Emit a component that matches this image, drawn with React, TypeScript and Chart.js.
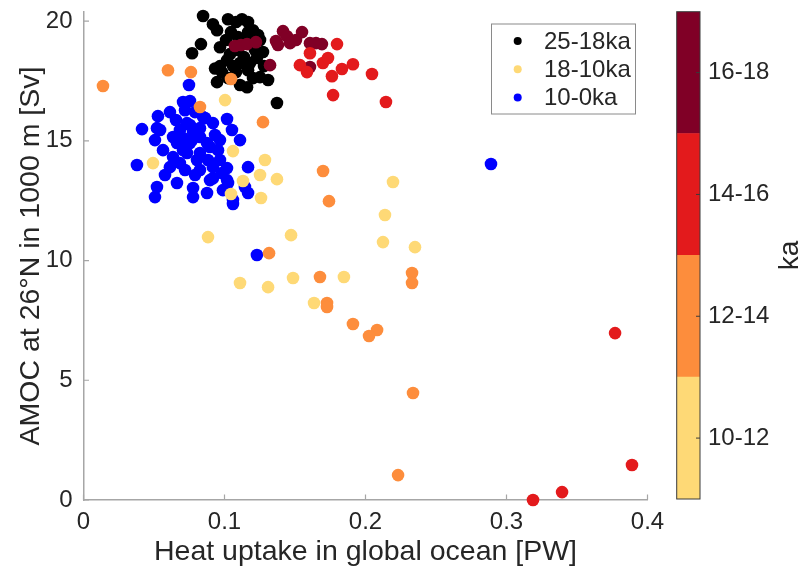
import React, { useEffect, useRef } from 'react';
import { Chart, registerables } from 'chart.js';

Chart.register(...registerables);

// ---------- tick labels / categories ----------
const xTicks = [0, 0.1, 0.2, 0.3, 0.4];
const yTicks = [0, 5, 10, 15, 20];
const cbBands = ['10-12', '12-14', '14-16', '16-18'];
const cbRanges: [number, number][] = [[10, 12], [12, 14], [14, 16], [16, 18]];
const cbTickValues = [11, 13, 15, 17];
const cbColors = ['#fed976', '#fd8d3c', '#e31a1c', '#800026'];
const legendLabels = ['25-18ka', '18-10ka', '10-0ka'];
const legendColors = ['#000000', '#fed976', '#0000ff'];

// ---------- series: [heat uptake PW, AMOC Sv] ----------
const pts25to18ka: [number, number][] = [
  [0.0848, 20.21], [0.0918, 19.87], [0.0947, 19.62], [0.1025, 20.08], [0.1082, 19.96],
  [0.1124, 20.08], [0.1167, 19.96], [0.1202, 19.62], [0.1238, 19.42], [0.0833, 19.04],
  [0.0770, 18.66], [0.0968, 18.91], [0.1011, 19.21], [0.1046, 19.54], [0.1096, 19.33],
  [0.1138, 19.12], [0.1252, 19.21], [0.1273, 18.71], [0.1216, 18.79], [0.1039, 18.62],
  [0.1096, 18.79], [0.1138, 18.50], [0.1018, 18.37], [0.0968, 18.12], [0.1060, 18.12],
  [0.1110, 18.25], [0.1181, 18.25], [0.1230, 18.46], [0.1280, 18.12], [0.1167, 17.95],
  [0.1202, 17.62], [0.1252, 17.66], [0.1309, 17.54], [0.0947, 17.45], [0.1025, 17.62],
  [0.1110, 17.33], [0.1160, 17.24], [0.1372, 16.58], [0.1082, 17.87], [0.0982, 17.87],
  [0.0933, 18.02], [0.1167, 19.54], [0.1216, 19.21],
];
const pts16to18ka: [number, number][] = [
  [0.1074, 18.96], [0.1117, 19.00], [0.1160, 19.04], [0.1223, 19.12], [0.1323, 18.16],
  [0.1365, 19.17], [0.1379, 19.00], [0.1415, 19.58], [0.1443, 19.37], [0.1465, 19.08],
  [0.1507, 19.21], [0.1550, 19.54], [0.1606, 19.08], [0.1649, 19.08], [0.1691, 19.04],
  [0.1606, 18.08],
];
const pts14to16ka: [number, number][] = [
  [0.1798, 19.04], [0.1606, 18.66], [0.1535, 18.16], [0.1585, 17.87], [0.1698, 18.25],
  [0.1734, 18.46], [0.1762, 17.70], [0.1833, 18.00], [0.1911, 18.20], [0.2046, 17.79],
  [0.1770, 16.91], [0.2145, 16.62], [0.3770, 6.97], [0.3890, 1.46], [0.3394, 0.33],
  [0.3188, 0.00],
];
const pts12to14ka: [number, number][] = [
  [0.0138, 17.29], [0.0599, 17.95], [0.0762, 17.87], [0.0826, 16.41], [0.1046, 17.58],
  [0.1273, 15.78], [0.1699, 13.74], [0.1741, 12.48], [0.1316, 10.31], [0.1677, 9.31],
  [0.1727, 8.23], [0.1727, 8.06], [0.1911, 7.35], [0.2082, 7.10], [0.2025, 6.85],
  [0.2330, 9.48], [0.2330, 9.06], [0.2337, 4.47], [0.2231, 1.04],
];
const pts10to12ka: [number, number][] = [
  [0.0493, 14.07], [0.1004, 16.70], [0.1060, 14.57], [0.1287, 14.20], [0.1131, 13.32],
  [0.1252, 13.57], [0.1046, 12.78], [0.1259, 12.61], [0.1372, 13.40], [0.2195, 13.28],
  [0.2138, 11.90], [0.2124, 10.77], [0.2351, 10.56], [0.0883, 10.98], [0.1472, 11.06],
  [0.1110, 9.06], [0.1309, 8.89], [0.1486, 9.27], [0.1847, 9.31], [0.1635, 8.23],
];
const pts10to0ka: [number, number][] = [
  [0.0748, 17.33], [0.0706, 16.62], [0.0755, 16.66], [0.0528, 16.03], [0.0613, 16.20],
  [0.0415, 15.49], [0.0521, 15.53], [0.0507, 15.03], [0.0635, 15.16], [0.0862, 15.95],
  [0.0918, 15.74], [0.1018, 15.91], [0.1053, 15.45], [0.1110, 15.03], [0.0564, 14.61],
  [0.0635, 14.32], [0.0379, 13.99], [0.0613, 13.90], [0.0663, 13.24], [0.0521, 13.07],
  [0.0507, 12.65], [0.0777, 13.03], [0.0777, 12.65], [0.0876, 12.82], [0.0826, 13.78],
  [0.0918, 13.90], [0.0982, 13.65], [0.1018, 13.86], [0.1025, 13.24], [0.1060, 12.53],
  [0.1060, 12.36], [0.1167, 13.90], [0.1167, 12.82], [0.0734, 14.49], [0.0826, 14.49],
  [0.0876, 14.91], [0.0777, 15.37], [0.0826, 15.16], [0.0897, 14.74], [0.0684, 15.45],
  [0.0734, 15.74], [0.0663, 14.91], [0.0755, 14.91], [0.0805, 14.20], [0.0684, 14.07],
  [0.0968, 14.20], [0.0720, 16.28], [0.0656, 15.87], [0.0791, 16.20], [0.0848, 15.99],
  [0.0883, 14.20], [0.0706, 14.61], [0.0755, 15.66], [0.0933, 15.24], [0.0968, 15.03],
  [0.0543, 15.45], [0.1145, 13.07], [0.1018, 13.36], [0.0989, 12.94], [0.0954, 14.61],
  [0.0791, 13.57], [0.0720, 13.78], [0.0578, 13.57], [0.0897, 13.36], [0.0826, 15.53],
  [0.0770, 15.03], [0.0706, 15.12], [0.0918, 13.44], [0.2890, 14.03], [0.1230, 10.23],
];

const FONT = '"Liberation Sans", Arial, Helvetica, sans-serif';
const TEXT = '#262626';
const AXIS = '#a6a6a6';

const toXY = (a: [number, number][]) => a.map(([x, y]) => ({ x, y }));

export default function App() {
  const mainRef = useRef<HTMLCanvasElement>(null);
  const cbRef = useRef<HTMLCanvasElement>(null);

  useEffect(() => {
    if (!mainRef.current || !cbRef.current) return;

    const ds = (label: string, data: [number, number][], color: string) => ({
      label,
      data: toXY(data),
      backgroundColor: color,
      borderWidth: 0,
      pointRadius: 6.3,
      pointHoverRadius: 6.3,
      clip: false as any,
    });

    const tickPlugin = {
      id: 'innerTicks',
      beforeDatasetsDraw(chart: any) {
        const { ctx, chartArea, scales } = chart;
        ctx.save();
        ctx.strokeStyle = AXIS;
        ctx.lineWidth = 1.2;
        ctx.beginPath();
        xTicks.forEach((v) => {
          const px = scales.x.getPixelForValue(v);
          ctx.moveTo(px, chartArea.bottom);
          ctx.lineTo(px, chartArea.bottom - 5.5);
        });
        yTicks.forEach((v) => {
          const py = scales.y.getPixelForValue(v);
          ctx.moveTo(chartArea.left, py);
          ctx.lineTo(chartArea.left + 5.5, py);
        });
        ctx.stroke();
        ctx.restore();
      },
    };

    const legendPlugin = {
      id: 'boxLegend',
      afterDraw(chart: any) {
        const { ctx } = chart;
        const bx = 491, by = 23.5, bw = 144, bh = 90;
        ctx.save();
        ctx.fillStyle = '#ffffff';
        ctx.fillRect(bx, by, bw, bh);
        ctx.strokeStyle = '#8a8a8a';
        ctx.lineWidth = 1;
        ctx.strokeRect(bx + 0.5, by + 0.5, bw, bh);
        ctx.font = `24px ${FONT}`;
        ctx.textBaseline = 'middle';
        ctx.textAlign = 'left';
        legendLabels.forEach((lab, i) => {
          const cy = 41 + i * 28.2;
          ctx.fillStyle = legendColors[i];
          ctx.beginPath();
          ctx.arc(517.7, cy, 4, 0, Math.PI * 2);
          ctx.fill();
          ctx.fillStyle = TEXT;
          ctx.fillText(lab, 544, cy + 1);
        });
        ctx.restore();
      },
    };

    const main = new Chart(mainRef.current, {
      type: 'scatter',
      data: {
        datasets: [
          ds('10-12ka', pts10to12ka, cbColors[0]),
          ds('12-14ka', pts12to14ka, cbColors[1]),
          ds('14-16ka', pts14to16ka, cbColors[2]),
          ds('16-18ka', pts16to18ka, cbColors[3]),
          ds(legendLabels[0], pts25to18ka, legendColors[0]),
          ds(legendLabels[2], pts10to0ka, legendColors[2]),
        ],
      },
      options: {
        animation: false,
        responsive: false,
        maintainAspectRatio: false,
        layout: { padding: { top: 12, right: 153.5, left: 0, bottom: 0 } },
        plugins: { legend: { display: false }, tooltip: { enabled: false } },
        scales: {
          x: {
            type: 'linear',
            min: 0,
            max: 0.4,
            afterBuildTicks: (s: any) => { s.ticks = xTicks.map((v) => ({ value: v })); },
            afterFit: (s: any) => { s.height = 75; s.paddingLeft = 0; s.paddingRight = 0; },
            grid: { display: false, drawTicks: false },
            border: { display: true, color: AXIS, width: 1.5 },
            ticks: {
              color: TEXT,
              font: { family: FONT, size: 24 },
              padding: 8,
              maxRotation: 0,
              callback: (v: any) => String(v),
            },
            title: {
              display: true,
              text: 'Heat uptake in global ocean [PW]',
              color: TEXT,
              font: { family: FONT, size: 28.5 },
              padding: { top: 0, bottom: 6 },
            },
          },
          y: {
            type: 'linear',
            min: 0,
            max: 20.38,
            afterBuildTicks: (s: any) => { s.ticks = yTicks.map((v) => ({ value: v })); },
            afterFit: (s: any) => { s.width = 83.5; s.paddingTop = 0; s.paddingBottom = 0; },
            grid: { display: false, drawTicks: false },
            border: { display: true, color: AXIS, width: 1.5 },
            ticks: {
              color: TEXT,
              font: { family: FONT, size: 24 },
              padding: 11,
              callback: (v: any) => String(v),
            },
            title: {
              display: true,
              text: 'AMOC at 26°N in 1000 m [Sv]',
              color: TEXT,
              font: { family: FONT, size: 28.5 },
              padding: { top: 14, bottom: 0 },
            },
          },
        },
      },
      plugins: [tickPlugin, legendPlugin],
    });

    const cbPlugin = {
      id: 'cbFrame',
      afterDraw(chart: any) {
        const { ctx, chartArea, scales } = chart;
        ctx.save();
        ctx.strokeStyle = '#3a3a3a';
        ctx.lineWidth = 1;
        ctx.strokeRect(chartArea.left, chartArea.top, chartArea.right - chartArea.left, chartArea.bottom - chartArea.top);
        ctx.beginPath();
        cbTickValues.forEach((v) => {
          const py = scales.y.getPixelForValue(v);
          ctx.moveTo(chartArea.right, py);
          ctx.lineTo(chartArea.right - 4, py);
        });
        ctx.stroke();
        ctx.translate(130, (chartArea.top + chartArea.bottom) / 2);
        ctx.rotate(-Math.PI / 2);
        ctx.fillStyle = TEXT;
        ctx.font = `28px ${FONT}`;
        ctx.textAlign = 'center';
        ctx.textBaseline = 'middle';
        ctx.fillText('ka', 0, 0);
        ctx.restore();
      },
    };

    const cb = new Chart(cbRef.current, {
      type: 'bar',
      data: {
        labels: [''],
        datasets: cbBands.map((b, i) => ({
          label: b,
          data: [cbRanges[i]] as any,
          backgroundColor: cbColors[i],
          borderWidth: 0,
          barPercentage: 1,
          categoryPercentage: 1,
          grouped: false,
        })),
      },
      options: {
        animation: false,
        responsive: false,
        maintainAspectRatio: false,
        layout: { padding: { left: 16.7, top: 11.7, bottom: 76, right: 0 } },
        plugins: { legend: { display: false }, tooltip: { enabled: false } },
        scales: {
          x: { display: false },
          y: {
            position: 'right',
            min: 10,
            max: 18,
            afterBuildTicks: (s: any) => { s.ticks = cbTickValues.map((v) => ({ value: v })); },
            afterFit: (s: any) => { s.width = 101; s.paddingTop = 0; s.paddingBottom = 0; },
            grid: { display: false, drawTicks: false },
            border: { display: false },
            ticks: {
              color: TEXT,
              font: { family: FONT, size: 24 },
              padding: 8,
              callback: (_v: any, i: number) => cbBands[i],
            },
          },
        },
      },
      plugins: [cbPlugin],
    });

    return () => {
      main.destroy();
      cb.destroy();
    };
  }, []);

  return (
    <div style={{ position: 'fixed', left: 0, top: 0, width: 801, height: 575, background: '#ffffff', overflow: 'hidden' }}>
      <canvas ref={mainRef} width={801} height={575} style={{ position: 'absolute', left: 0, top: 0, width: 801, height: 575 }} />
      <canvas ref={cbRef} width={141} height={575} style={{ position: 'absolute', left: 660, top: 0, width: 141, height: 575 }} />
    </div>
  );
}
